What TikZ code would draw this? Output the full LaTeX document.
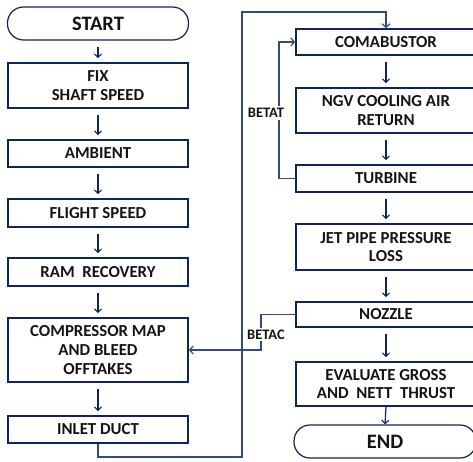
\documentclass[tikz,border=0pt]{standalone}
\usepackage{fontspec}
\setmainfont{Carlito}
\usetikzlibrary{arrows.meta}
\definecolor{boxcol}{RGB}{14,36,94}
\definecolor{linecol}{RGB}{50,74,128}
\definecolor{txtcol}{RGB}{20,20,20}
\tikzset{
  fbox/.style={draw=boxcol, line width=1.8pt, minimum width=180pt, align=center, inner sep=0pt, text=txtcol,
    font=\fontsize{16.8}{18.6}\selectfont\bfseries},
  term/.style={fbox, line width=1.2pt, rounded corners=16pt, font=\fontsize{20.5}{22}\selectfont\bfseries},
  flow/.style={draw=boxcol, line width=1.2pt, -{Straight Barb[length=3.5pt,width=7pt,line width=1.1pt]}},
  link/.style={draw=linecol, line width=1.5pt},
  linkarr/.style={link, -{Straight Barb[length=3.5pt,width=8pt,line width=1.2pt]}},
  lbl/.style={fill=white, text=txtcol, inner sep=2pt, font=\fontsize{14.5}{16}\selectfont\bfseries}
}
\begin{document}
\begin{tikzpicture}[x=1pt,y=-1pt]
\useasboundingbox (0,0) rectangle (473,462);
\begin{scope}
\clip (0,0) rectangle (473,462);
% left column
\node[term, minimum width=181pt, minimum height=33pt] (start) at (98,23.5) {START};
\node[fbox, minimum height=45pt] (fix) at (98,85.5) {FIX\\SHAFT SPEED};
\node[fbox, minimum height=27pt] (amb) at (98,153.5) {AMBIENT};
\node[fbox, minimum height=28pt] (flight) at (98,213) {FLIGHT SPEED};
\node[fbox, minimum height=28pt] (ram) at (98,272) {RAM~~RECOVERY};
\node[fbox, minimum height=64pt] (comp) at (98,350) {COMPRESSOR MAP\\AND BLEED\\OFFTAKES};
\node[fbox, minimum height=27pt] (inlet) at (98,429.5) {INLET DUCT};
% right column
\node[fbox, minimum height=26pt] (comb) at (386,42) {COMABUSTOR};
\node[fbox, minimum height=45pt] (ngv) at (386,110.5) {NGV COOLING AIR\\RETURN};
\node[fbox, minimum height=27pt] (turb) at (386,178.5) {TURBINE};
\node[fbox, minimum height=46pt] (jet) at (386,247) {JET PIPE PRESSURE\\LOSS};
\node[fbox, minimum height=25pt] (noz) at (386,314.5) {NOZZLE};
\node[fbox, minimum height=44pt] (eval) at (386,384) {EVALUATE GROSS\\AND~~NETT~~THRUST};
\node[term, minimum width=182pt, minimum height=33pt] (end) at (385,441.5) {END};
% short arrows
\draw[flow] ([yshift=-6pt]start.south) -- ([yshift=4pt]fix.north);
\draw[flow] ([yshift=-6pt]fix.south) -- ([yshift=4pt]amb.north);
\draw[flow] ([yshift=-6pt]amb.south) -- ([yshift=4pt]flight.north);
\draw[flow] ([yshift=-6pt]flight.south) -- ([yshift=4pt]ram.north);
\draw[flow] ([yshift=-6pt]ram.south) -- ([yshift=4pt]comp.north);
\draw[flow] ([yshift=-6pt]comp.south) -- ([yshift=4pt]inlet.north);
\draw[flow] ([yshift=-6pt]comb.south) -- ([yshift=4pt]ngv.north);
\draw[flow] ([yshift=-6pt]ngv.south) -- ([yshift=4pt]turb.north);
\draw[flow] ([yshift=-6pt]turb.south) -- ([yshift=4pt]jet.north);
\draw[flow] ([yshift=-6pt]jet.south) -- ([yshift=4pt]noz.north);
\draw[flow] ([yshift=-6pt]noz.south) -- ([yshift=4pt]eval.north);
\draw[flow] (eval.south) -- (end.north);
% feedback loops
\coordinate (a1) at (98,457);
\coordinate (a2) at (242,457);
\coordinate (a3) at (242,12);
\coordinate (a4) at (386,12);
\draw[linkarr] (inlet.south) -- (a1) -- (a2) -- (a3) -- (a4) -- (comb.north);
\coordinate (c1) at (261,314.5);
\coordinate (c2) at (261,350);
\draw[linkarr] (noz.west) -- (c1) -- (c2) -- (comp.east);
\coordinate (t1) at (279,178.5);
\coordinate (t2) at (279,42);
\draw[linkarr] (turb.west) -- (t1) -- (t2) -- (comb.west);
\node[lbl] (betat) at (266,113) {BETAT};
\node[lbl] (betac) at (266,334.5) {BETAC};
\end{scope}
\end{tikzpicture}
\end{document}
